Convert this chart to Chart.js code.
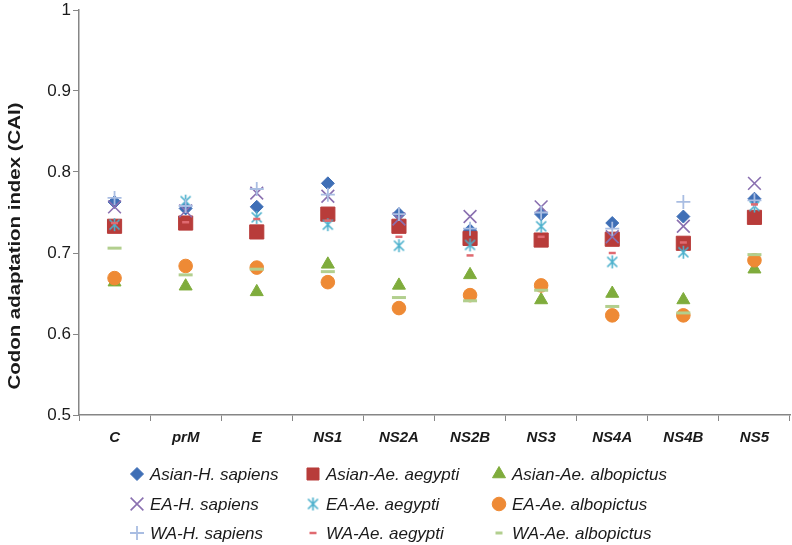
<!DOCTYPE html>
<html>
<head>
<meta charset="utf-8">
<title>Codon adaptation index</title>
<script src="https://cdn.jsdelivr.net/npm/chart.js@4/dist/chart.umd.min.js"></script>
<style>
  html, body { margin: 0; padding: 0; background: #fff; }
  #my-chart { display: block; }
</style>
</head>
<body>
<canvas id="my-chart" width="792" height="545"></canvas>
<script>
'use strict';

// ***** DATA *****
let genes = ['C', 'prM', 'E', 'NS1', 'NS2A', 'NS2B', 'NS3', 'NS4A', 'NS4B', 'NS5'];
let yTicks = [0.5, 0.6, 0.7, 0.8, 0.9, 1];
let yTitle = 'Codon adaptation index (CAI)';

let asianHs = [0.763, 0.755, 0.757, 0.786, 0.748, 0.728, 0.748, 0.737, 0.745, 0.767];
let asianAeg = [0.733, 0.737, 0.726, 0.748, 0.733, 0.718, 0.716, 0.717, 0.712, 0.744];
let asianAlb = [0.664, 0.659, 0.652, 0.686, 0.660, 0.673, 0.642, 0.650, 0.642, 0.680];
let eaHs = [0.757, 0.752, 0.774, 0.770, 0.742, 0.745, 0.757, 0.720, 0.733, 0.786];
let eaAeg = [0.735, 0.764, 0.744, 0.735, 0.709, 0.710, 0.733, 0.689, 0.701, 0.758];
let eaAlb = [0.669, 0.684, 0.682, 0.664, 0.632, 0.648, 0.660, 0.623, 0.623, 0.691];
let waHs = [0.768, 0.758, 0.779, 0.772, 0.748, 0.730, 0.750, 0.730, 0.763, 0.765];
let waAeg = [0.737, 0.738, 0.742, 0.740, 0.720, 0.697, 0.720, 0.700, 0.713, 0.760];
let waAlb = [0.706, 0.673, 0.680, 0.677, 0.645, 0.641, 0.654, 0.634, 0.626, 0.698];

// ***** STYLE *****
let fontFamily = '"Liberation Sans", Arial, sans-serif';
let textColor = '#1a1a1a';
let axisColor = '#868686';

// star marker (X with a vertical bar) like the spreadsheet one
function makeStar(color) {
  let c = document.createElement('canvas');
  c.width = 15;
  c.height = 15;
  let g = c.getContext('2d');
  g.strokeStyle = color;
  g.lineWidth = 1.6;
  g.beginPath();
  g.moveTo(2.5, 2.5); g.lineTo(12.5, 12.5);
  g.moveTo(12.5, 2.5); g.lineTo(2.5, 12.5);
  g.moveTo(7.5, 1); g.lineTo(7.5, 14);
  g.stroke();
  return c;
}

// **** CONSTRUCTOR FUNCTION ****
function Series(label, data, color, pointStyle, radius, borderWidth, filled) {
  this.label = label;
  this.data = data;
  this.color = color;
  this.pointStyle = pointStyle;
  this.radius = radius;
  this.borderWidth = borderWidth;
  this.filled = filled;
}

let seriesArray = [];
seriesArray.push(
  new Series('Asian-H. sapiens', asianHs, '#3f6fb6', 'rectRot', 6.5, 1, true),
  new Series('Asian-Ae. aegypti', asianAeg, '#b83c3a', 'rect', 10, 1, true),
  new Series('Asian-Ae. albopictus', asianAlb, '#7fac3c', 'triangle', 7.5, 1, true),
  new Series('EA-H. sapiens', eaHs, '#8a70b0', 'crossRot', 9, 1.6, false),
  new Series('EA-Ae. aegypti', eaAeg, '#4bb0cc', makeStar('#4bb0cc'), 7, 0, false),
  new Series('EA-Ae. albopictus', eaAlb, '#ee8a35', 'circle', 6.8, 1, true),
  new Series('WA-H. sapiens', waHs, '#a9bde2', 'cross', 7, 1.8, false),
  new Series('WA-Ae. aegypti', waAeg, '#e06a70', 'line', 3.5, 2.5, false),
  new Series('WA-Ae. albopictus', waAlb, '#b2cf8e', 'line', 7, 3, false)
);

// **** LEGEND + AXIS TITLE PLUGIN ****
let legendCols = [137, 313, 499];
let legendRows = [474, 504, 533];

let gridLegend = {
  id: 'gridLegend',
  afterDraw(chart) {
    let ctx = chart.ctx;
    ctx.save();
    for (let i = 0; i < seriesArray.length; i++) {
      let s = seriesArray[i];
      let x = legendCols[i % 3];
      let y = legendRows[Math.floor(i / 3)];
      ctx.fillStyle = s.color;
      ctx.strokeStyle = s.color;
      ctx.lineWidth = s.borderWidth;
      let r = s.radius;
      if (s.pointStyle === 'rect') r = 8.5;
      if (s.pointStyle === 'line') r = 3.5;
      Chart.helpers.drawPoint(ctx, {
        pointStyle: s.pointStyle,
        rotation: 0,
        radius: r,
        borderWidth: s.borderWidth
      }, x, y);
      ctx.fillStyle = textColor;
      ctx.font = 'italic 17px ' + fontFamily;
      ctx.textAlign = 'left';
      ctx.textBaseline = 'middle';
      ctx.fillText(s.label, x + 13, y + 1);
    }
    ctx.restore();

    // y axis title, stretched along its length like the source image
    ctx.save();
    ctx.font = 'bold 17px ' + fontFamily;
    ctx.fillStyle = textColor;
    ctx.textAlign = 'center';
    ctx.textBaseline = 'middle';
    let stretch = 287 / ctx.measureText(yTitle).width;
    ctx.translate(15, 246);
    ctx.rotate(-Math.PI / 2);
    ctx.scale(stretch, 1);
    ctx.fillText(yTitle, 0, 0);
    ctx.restore();
  }
};

// **** CHART ****
let ctx = document.getElementById('my-chart');

let datasets = [];
for (let i = 0; i < seriesArray.length; i++) {
  let s = seriesArray[i];
  datasets.push({
    label: s.label,
    data: s.data,
    showLine: false,
    pointStyle: s.pointStyle,
    pointRadius: s.radius,
    pointHoverRadius: s.radius,
    pointBorderWidth: s.borderWidth,
    pointBackgroundColor: s.filled ? s.color : 'rgba(0,0,0,0)',
    pointBorderColor: s.color,
    backgroundColor: s.color,
    borderColor: s.color,
    order: seriesArray.length - i // later series drawn on top
  });
}

let chartObj = {
  type: 'line',
  data: {
    labels: genes,
    datasets: datasets
  },
  options: {
    responsive: false,
    animation: false,
    devicePixelRatio: 1,
    layout: {
      autoPadding: false,
      padding: { left: 0, right: 2, top: 10, bottom: 0 }
    },
    plugins: {
      legend: { display: false },
      tooltip: { enabled: false }
    },
    scales: {
      x: {
        type: 'category',
        offset: true,
        grid: {
          offset: true,
          drawOnChartArea: false,
          drawTicks: true,
          tickLength: 6,
          color: axisColor,
          lineWidth: 1
        },
        border: { color: axisColor, width: 1.5 },
        ticks: {
          color: textColor,
          padding: 8,
          maxRotation: 0,
          font: { family: fontFamily, size: 15, style: 'italic', weight: 'bold' }
        },
        afterFit(scale) {
          scale.height = 130;
          scale.paddingLeft = 0;
          scale.paddingRight = 0;
        }
      },
      y: {
        min: 0.5,
        max: 1,
        grid: {
          drawOnChartArea: false,
          drawTicks: true,
          tickLength: 6,
          color: axisColor,
          lineWidth: 1
        },
        border: { color: axisColor, width: 1.5 },
        afterBuildTicks(scale) {
          scale.ticks = yTicks.map(v => ({ value: v }));
        },
        ticks: {
          color: textColor,
          padding: 2,
          font: { family: fontFamily, size: 17 },
          callback: v => (v === 1 ? '1' : Number(v).toFixed(1))
        },
        afterFit(scale) {
          scale.width = 79;
          scale.paddingTop = 0;
          scale.paddingBottom = 0;
        }
      }
    }
  },
  plugins: [gridLegend]
};

new Chart(ctx, chartObj);
</script>
</body>
</html>
